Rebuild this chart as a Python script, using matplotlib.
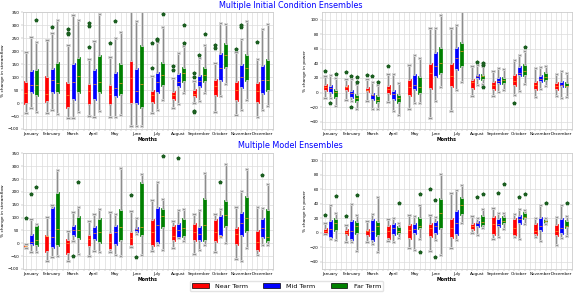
import matplotlib
matplotlib.use("Agg")
import matplotlib.pyplot as plt
from matplotlib.patches import Patch
import matplotlib.patheffects as pe

months = ["January", "February", "March", "April", "May", "June", "July",
          "August", "September", "October", "November", "December"]
terms = ["Near Term", "Mid Term", "Far Term"]
term_colors = ["red", "blue", "green"]

# each box: (whisker_low, q1, median, q3, whisker_high, [fliers]) ; order per month: near, mid, far
ic_flow = [
    [(-37, -5, 40, 85, 197, []), (-20, 40, 70, 128, 253, []), (-35, 28, 70, 130, 235, [320])],
    [(-40, 3, 35, 105, 245, []), (-28, 38, 88, 135, 272, [292]), (-43, 38, 78, 160, 320, [])],
    [(-58, -18, 30, 83, 222, [265, 270, 285]), (-58, 12, 80, 155, 340, []), (-35, 40, 105, 178, 320, [])],
    [(-50, -7, 45, 78, 170, [215, 297, 308]), (-55, 13, 72, 133, 238, []), (-32, 40, 80, 185, 345, [])],
    [(-52, -7, 35, 75, 178, [232]), (-52, 22, 60, 120, 250, [315]), (-45, 30, 78, 153, 275, [])],
    [(-90, -2, 95, 167, 355, []), (-90, -5, 45, 135, 315, []), (-88, -20, 75, 222, 355, [])],
    [(-40, 0, 30, 52, 105, [135, 232]), (-28, 38, 80, 118, 235, [243, 246]), (10, 65, 110, 158, 292, [342])],
    [(-18, 13, 30, 48, 97, [127, 143]), (-5, 62, 80, 117, 192, []), (40, 82, 115, 140, 220, [230, 300])],
    [(0, 25, 35, 55, 85, [-33, -29, 102, 117]), (8, 63, 85, 110, 172, [185]), (40, 82, 107, 140, 225, [268])],
    [(-35, 28, 65, 93, 155, [213, 222]), (28, 87, 135, 192, 310, []), (72, 137, 185, 230, 305, [])],
    [(-45, 7, 50, 85, 195, [208]), (-28, 58, 100, 152, 248, [295, 300]), (10, 85, 135, 190, 318, [])],
    [(-53, 2, 45, 82, 170, [235]), (-28, 35, 90, 147, 285, []), (-12, 45, 88, 170, 305, [])],
]

ic_power = [
    [(-8, 2, 7, 12, 22, [29]), (-7, 0, 6, 10, 24, [-15]), (-18, -7, 1, 5, 20, [25])],
    [(-10, 2, 7, 11, 18, [28]), (-12, -7, 0, 4, 19, [23, -20]), (-22, -13, -8, -2, 12, [14, 21])],
    [(-12, 1, 4, 8, 19, [24]), (-23, -10, -4, 0, 14, [22]), (-23, -15, -10, -4, 10, [15])],
    [(-13, -2, 5, 10, 25, [37]), (-25, -10, -2, 3, 26, []), (-31, -14, -7, -2, 13, [])],
    [(-23, -5, 7, 19, 38, []), (-15, 4, 10, 25, 51, []), (-14, -2, 8, 22, 47, [])],
    [(-35, 5, 27, 41, 89, []), (-12, 21, 37, 56, 88, []), (8, 25, 41, 63, 106, [])],
    [(-26, 8, 22, 41, 88, []), (3, 31, 48, 62, 92, []), (14, 35, 57, 69, 112, [])],
    [(-5, 5, 15, 19, 36, []), (10, 18, 22, 26, 38, [42]), (12, 17, 22, 25, 36, [8, 38, 40])],
    [(-5, 4, 11, 16, 29, []), (1, 12, 16, 21, 33, []), (4, 12, 17, 21, 32, [])],
    [(-4, 9, 16, 25, 44, [-15]), (2, 22, 27, 37, 51, []), (12, 23, 30, 39, 57, [63])],
    [(-6, 4, 11, 16, 34, []), (5, 14, 19, 24, 35, []), (9, 16, 21, 28, 36, [])],
    [(-5, 3, 9, 15, 26, []), (-7, 7, 10, 16, 29, []), (-6, 7, 9, 15, 27, [])],
]

me_flow = [
    [(-17, -15, -12, -7, -2, [97]), (-35, -5, 5, 35, 93, [190]), (-35, -10, 12, 70, 75, [217])],
    [(-70, -33, 28, 33, 102, []), (-55, -20, 25, 142, 147, []), (-48, -10, 57, 200, 285, [])],
    [(-70, -40, 0, 15, 47, []), (8, 28, 50, 73, 120, [-48]), (-42, 15, 50, 105, 140, [237])],
    [(-50, -15, 15, 35, 85, []), (-30, 12, 40, 68, 115, []), (-35, 3, 42, 97, 135, [])],
    [(-35, -27, 5, 43, 123, []), (-47, -5, 45, 70, 115, []), (-48, 10, 65, 132, 292, [])],
    [(-15, -10, 20, 47, 125, [187]), (35, 43, 55, 65, 97, [-53]), (-45, 30, 62, 237, 270, [])],
    [(-30, -10, 45, 93, 170, []), (-5, 0, 70, 143, 240, []), (-25, 60, 105, 138, 172, [340])],
    [(-18, 8, 30, 73, 88, []), (20, 22, 50, 78, 130, [330]), (10, 25, 60, 100, 135, [])],
    [(-40, 8, 45, 80, 112, []), (-25, 8, 35, 67, 130, []), (-5, 8, 72, 178, 275, [])],
    [(-35, 5, 45, 95, 112, []), (25, 28, 30, 110, 135, [237]), (3, 63, 110, 170, 307, [])],
    [(-60, -5, 35, 63, 140, []), (-70, 28, 80, 122, 205, []), (-18, 45, 98, 182, 287, [])],
    [(-45, -30, 5, 50, 143, []), (-5, 20, 58, 100, 138, [265]), (-5, 5, 23, 135, 232, [])],
]

me_power = [
    [(-2, -1, 3, 7, 14, [25]), (-9, -7, 5, 18, 39, []), (-10, 2, 14, 20, 27, [51])],
    [(-12, -3, 1, 5, 11, [23]), (-12, -10, 3, 18, 40, []), (-25, -2, 10, 17, 24, [52])],
    [(-12, -4, 3, 5, 17, []), (-16, -11, 2, 19, 26, []), (-26, -5, 9, 17, 49, [])],
    [(-11, -9, 2, 11, 19, []), (-12, -3, 7, 14, 21, []), (-7, -2, 3, 10, 13, [41])],
    [(-21, -8, 4, 12, 25, []), (-24, -1, 5, 14, 23, []), (-8, 6, 10, 22, 39, [54, -26])],
    [(-25, -6, 7, 13, 24, [60]), (-10, -2, 9, 16, 22, [46, -33]), (-31, 5, 27, 48, 81, [])],
    [(-21, -7, 7, 20, 55, []), (-10, -3, 13, 32, 59, []), (13, 24, 38, 50, 66, [])],
    [(0, 4, 9, 14, 23, []), (-3, 8, 13, 17, 20, [50]), (7, 9, 15, 25, 33, [54])],
    [(-8, -3, 12, 23, 35, []), (-6, 8, 12, 20, 28, [55]), (5, 12, 17, 23, 28, [68])],
    [(-6, -4, 7, 21, 26, []), (-8, 12, 19, 25, 33, [49]), (12, 19, 22, 29, 31, [54])],
    [(-6, -3, 3, 14, 20, []), (-11, 2, 9, 22, 38, []), (12, 13, 17, 19, 20, [41])],
    [(-17, -4, 3, 12, 22, []), (-7, -2, 7, 21, 38, []), (-4, 7, 9, 18, 23, [41])],
]

flow_ylim = (-100, 350)
flow_ticks = list(range(-100, 351, 50))
power_ylim = (-50, 110)
power_ticks = list(range(-40, 101, 20))

W, H = 581, 295
fig = plt.figure(figsize=(W / 100, H / 100), dpi=100)


def make_ax(left, top, right, bottom):
    return fig.add_axes([left / W, 1 - bottom / H, (right - left) / W, (bottom - top) / H])


halo = [pe.withStroke(linewidth=2.0, foreground="#d4d4d4")]


def draw(ax, data, ylabel, ylim, yticks):
    for m, month in enumerate(data):
        for t, box in enumerate(month):
            wl, q1, med, q3, wh, fl = box
            stats = [dict(whislo=wl, q1=q1, med=med, q3=q3, whishi=wh, fliers=fl)]
            art = ax.bxp(stats, positions=[4 * m + t + 1], widths=0.55, patch_artist=True,
                         manage_ticks=False,
                         boxprops=dict(facecolor=term_colors[t], edgecolor=term_colors[t], linewidth=0.5),
                         whiskerprops=dict(color="#808080", linewidth=0.6),
                         capprops=dict(color="#808080", linewidth=0.6),
                         medianprops=dict(color="#ff9a2a", linewidth=0.5),
                         flierprops=dict(marker="*", markersize=2.6, markerfacecolor="#1b5e20",
                                         markeredgecolor="#1b5e20", linestyle="none"),
                         zorder=3)
            for ln in art["whiskers"] + art["caps"]:
                ln.set_path_effects(halo)
    ax.set_xlim(0.4, 48)
    ax.set_ylim(*ylim)
    ax.set_yticks(yticks)
    ax.set_xticks([4 * m + 2 for m in range(12)])
    ax.set_xticklabels(months)
    ax.set_xticks(range(1, 49), minor=True)
    ax.grid(True, which="both", color="#dcdcdc", linewidth=0.5, zorder=0)
    ax.set_axisbelow(True)
    ax.tick_params(axis="both", which="both", labelsize=3.0, length=1.5, width=0.3,
                   pad=1, color="#999999")
    ax.set_ylabel(ylabel, fontsize=3.2, labelpad=2)
    ax.set_xlabel("Months", fontsize=3.4, fontweight="bold", labelpad=0.5)
    for s in ax.spines.values():
        s.set_color("#cccccc")
        s.set_linewidth(0.6)


ax1 = make_ax(22.7, 12.3, 273, 129)
ax2 = make_ax(322, 12.3, 572, 129)
ax3 = make_ax(22.7, 153.3, 273, 269)
ax4 = make_ax(322, 153.3, 572, 269)

draw(ax1, ic_flow, "% change in streamflow", flow_ylim, flow_ticks)
draw(ax2, ic_power, "% change in power", power_ylim, power_ticks)
draw(ax3, me_flow, "% change in streamflow", flow_ylim, flow_ticks)
draw(ax4, me_power, "% change in power", power_ylim, power_ticks)

fig.text(0.5, 1 - 5 / H, "Multiple Initial Condition Ensembles", ha="center", va="center",
         fontsize=5.8, color="blue")
fig.text(0.5, 1 - 145 / H, "Multiple Model Ensembles", ha="center", va="center",
         fontsize=5.8, color="blue")

handles = [Patch(facecolor=c, edgecolor="black", linewidth=0.5, label=l)
           for c, l in zip(term_colors, terms)]
fig.legend(handles=handles, loc="center", bbox_to_anchor=(286.5 / W, 1 - 286 / H), ncol=3,
           fontsize=4.6, frameon=True, handlelength=2.6, handleheight=0.9,
           columnspacing=2.4, handletextpad=1.0, borderpad=0.35, edgecolor="#dddddd",
           fancybox=True)

fig.savefig("out.png", dpi=100)
